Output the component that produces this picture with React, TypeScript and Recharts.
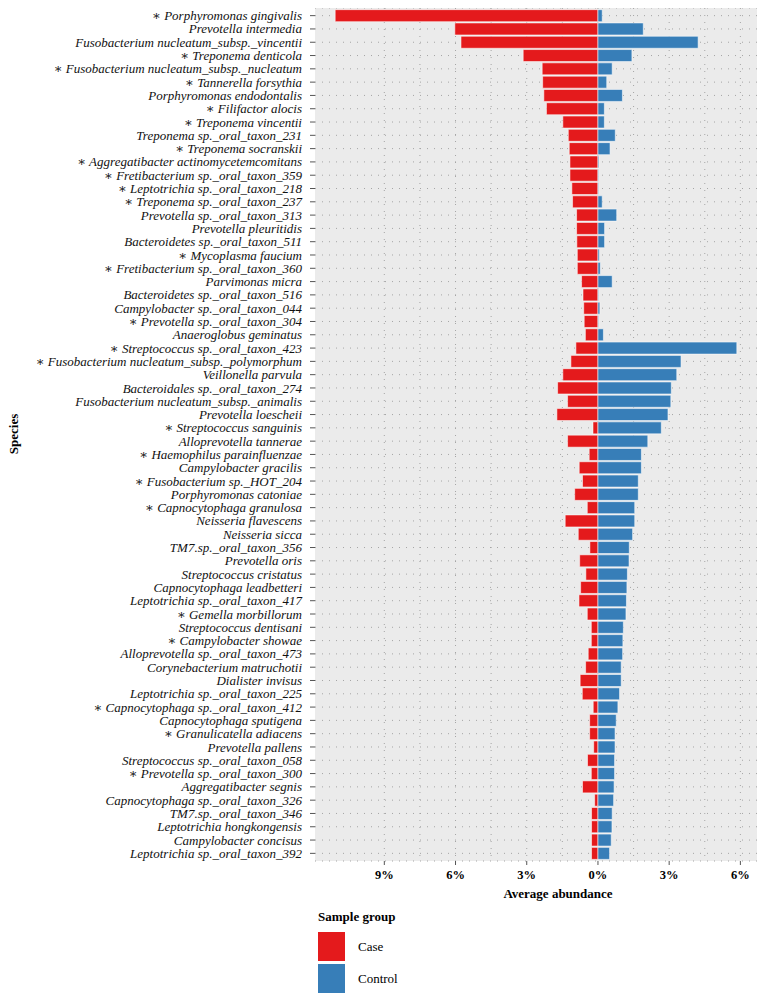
import { BarChart, Bar, XAxis, YAxis, CartesianGrid } from 'recharts';

const species = [
  '∗ Porphyromonas gingivalis',
  'Prevotella intermedia',
  'Fusobacterium nucleatum_subsp._vincentii',
  '∗ Treponema denticola',
  '∗ Fusobacterium nucleatum_subsp._nucleatum',
  '∗ Tannerella forsythia',
  'Porphyromonas endodontalis',
  '∗ Filifactor alocis',
  '∗ Treponema vincentii',
  'Treponema sp._oral_taxon_231',
  '∗ Treponema socranskii',
  '∗ Aggregatibacter actinomycetemcomitans',
  '∗ Fretibacterium sp._oral_taxon_359',
  '∗ Leptotrichia sp._oral_taxon_218',
  '∗ Treponema sp._oral_taxon_237',
  'Prevotella sp._oral_taxon_313',
  'Prevotella pleuritidis',
  'Bacteroidetes sp._oral_taxon_511',
  '∗ Mycoplasma faucium',
  '∗ Fretibacterium sp._oral_taxon_360',
  'Parvimonas micra',
  'Bacteroidetes sp._oral_taxon_516',
  'Campylobacter sp._oral_taxon_044',
  '∗ Prevotella sp._oral_taxon_304',
  'Anaeroglobus geminatus',
  '∗ Streptococcus sp._oral_taxon_423',
  '∗ Fusobacterium nucleatum_subsp._polymorphum',
  'Veillonella parvula',
  'Bacteroidales sp._oral_taxon_274',
  'Fusobacterium nucleatum_subsp._animalis',
  'Prevotella loescheii',
  '∗ Streptococcus sanguinis',
  'Alloprevotella tannerae',
  '∗ Haemophilus parainfluenzae',
  'Campylobacter gracilis',
  '∗ Fusobacterium sp._HOT_204',
  'Porphyromonas catoniae',
  '∗ Capnocytophaga granulosa',
  'Neisseria flavescens',
  'Neisseria sicca',
  'TM7.sp._oral_taxon_356',
  'Prevotella oris',
  'Streptococcus cristatus',
  'Capnocytophaga leadbetteri',
  'Leptotrichia sp._oral_taxon_417',
  '∗ Gemella morbillorum',
  'Streptococcus dentisani',
  '∗ Campylobacter showae',
  'Alloprevotella sp._oral_taxon_473',
  'Corynebacterium matruchotii',
  'Dialister invisus',
  'Leptotrichia sp._oral_taxon_225',
  '∗ Capnocytophaga sp._oral_taxon_412',
  'Capnocytophaga sputigena',
  '∗ Granulicatella adiacens',
  'Prevotella pallens',
  'Streptococcus sp._oral_taxon_058',
  '∗ Prevotella sp._oral_taxon_300',
  'Aggregatibacter segnis',
  'Capnocytophaga sp._oral_taxon_326',
  'TM7.sp._oral_taxon_346',
  'Leptotrichia hongkongensis',
  'Campylobacter concisus',
  'Leptotrichia sp._oral_taxon_392',
];

// average abundance (%) in the case group, drawn to the left
const caseAbundance = [
  11.07, 6.03, 5.77, 3.15, 2.35, 2.33, 2.28, 2.17, 1.48, 1.25, 1.21, 1.18, 1.18, 1.1, 1.07, 0.9,
  0.9, 0.89, 0.87, 0.87, 0.69, 0.63, 0.6, 0.58, 0.53, 0.93, 1.14, 1.48, 1.7, 1.28, 1.73, 0.21,
  1.28, 0.37, 0.79, 0.65, 0.98, 0.45, 1.38, 0.83, 0.34, 0.77, 0.51, 0.73, 0.8, 0.45, 0.28, 0.28,
  0.41, 0.52, 0.75, 0.66, 0.2, 0.35, 0.35, 0.18, 0.44, 0.28, 0.65, 0.14, 0.27, 0.27, 0.27, 0.27,
];

// average abundance (%) in the control group, drawn to the right
const controlAbundance = [
  0.18, 1.91, 4.22, 1.43, 0.6, 0.37, 1.03, 0.27, 0.27, 0.73, 0.51, 0.04, 0.03, 0.03, 0.18, 0.79,
  0.28, 0.28, 0.06, 0.1, 0.6, 0.03, 0.08, 0.03, 0.23, 5.85, 3.5, 3.32, 3.09, 3.07, 2.95, 2.67,
  2.1, 1.83, 1.83, 1.7, 1.7, 1.55, 1.55, 1.46, 1.32, 1.31, 1.24, 1.22, 1.2, 1.18, 1.07, 1.05,
  1.04, 0.98, 0.98, 0.91, 0.84, 0.77, 0.72, 0.72, 0.7, 0.7, 0.68, 0.66, 0.6, 0.59, 0.56, 0.49,
];

const xTicks = [-9, -6, -3, 0, 3, 6];
const gridValues = [-10.5, -9, -7.5, -6, -4.5, -3, -1.5, 0, 1.5, 3, 4.5, 6];

const FONT = '"Liberation Serif", "DejaVu Serif", serif';
const CASE_COLOR = '#E41A1C';
const CONTROL_COLOR = '#377EB8';

const data = species.map((name, i) => ({
  name,
  case: -caseAbundance[i],
  control: controlAbundance[i],
}));

// plain one-line tick so long names never wrap
const SpeciesTick = ({ x, y, payload }: any) => (
  <text
    x={x}
    y={y}
    dy="0.35em"
    textAnchor="end"
    fill="#111"
    fontSize={13}
    fontStyle="italic"
    fontFamily={FONT}
  >
    {payload.value}
  </text>
);

export default function App() {
  return (
    <div style={{ position: 'relative', width: 757, height: 995, fontFamily: FONT }}>
      <BarChart
        width={757}
        height={893}
        data={data}
        layout="vertical"
        stackOffset="sign"
        barCategoryGap="5%"
        margin={{ top: 0, right: 8, bottom: 0, left: 0 }}
      >
        <CartesianGrid
          fill="#EBEBEB"
          fillOpacity={1}
          stroke="#a5a5a5"
          strokeDasharray="1 6"
          verticalValues={gridValues}
        />
        <XAxis
          type="number"
          domain={[-11.92, 6.7]}
          ticks={xTicks}
          allowDataOverflow
          tickFormatter={(v: number) => `${Math.abs(v)}%`}
          axisLine={false}
          tickLine={{ stroke: '#555' }}
          tickSize={4}
          tickMargin={5}
          height={40}
          tick={{ fill: '#000', fontSize: 12.5, fontWeight: 'bold', fontFamily: FONT }}
        />
        <YAxis
          type="category"
          dataKey="name"
          width={307}
          interval={0}
          padding={{ top: 1, bottom: 1 }}
          axisLine={false}
          tickLine={{ stroke: '#555' }}
          tickSize={5}
          tickMargin={8}
          tick={<SpeciesTick />}
        />
        <Bar
          dataKey="case"
          stackId="a"
          fill={CASE_COLOR}
          stroke="#ffffff"
          strokeOpacity={0.55}
          strokeWidth={1}
          isAnimationActive={false}
        />
        <Bar
          dataKey="control"
          stackId="a"
          fill={CONTROL_COLOR}
          stroke="#ffffff"
          strokeOpacity={0.55}
          strokeWidth={1}
          isAnimationActive={false}
        />
      </BarChart>

      <div
        style={{
          position: 'absolute',
          left: 6,
          top: 426,
          transform: 'translate(-50%, -50%) rotate(-90deg)',
          fontWeight: 'bold',
          fontSize: 13,
          whiteSpace: 'nowrap',
        }}
      >
        Species
      </div>

      <div
        style={{
          position: 'absolute',
          left: 550,
          top: 886,
          transform: 'translate(-50%, -50%)',
          fontWeight: 'bold',
          fontSize: 13,
          whiteSpace: 'nowrap',
        }}
      >
        Average abundance
      </div>

      <div style={{ position: 'absolute', left: 310, top: 901, fontSize: 13 }}>
        <div style={{ fontWeight: 'bold', lineHeight: '16px' }}>Sample group</div>
        {[
          { label: 'Case', color: CASE_COLOR },
          { label: 'Control', color: CONTROL_COLOR },
        ].map((item, i) => (
          <div
            key={item.label}
            style={{ display: 'flex', alignItems: 'center', marginTop: i === 0 ? 7 : 3 }}
          >
            <div style={{ width: 27, height: 29, background: item.color }} />
            <span style={{ marginLeft: 13 }}>{item.label}</span>
          </div>
        ))}
      </div>
    </div>
  );
}
